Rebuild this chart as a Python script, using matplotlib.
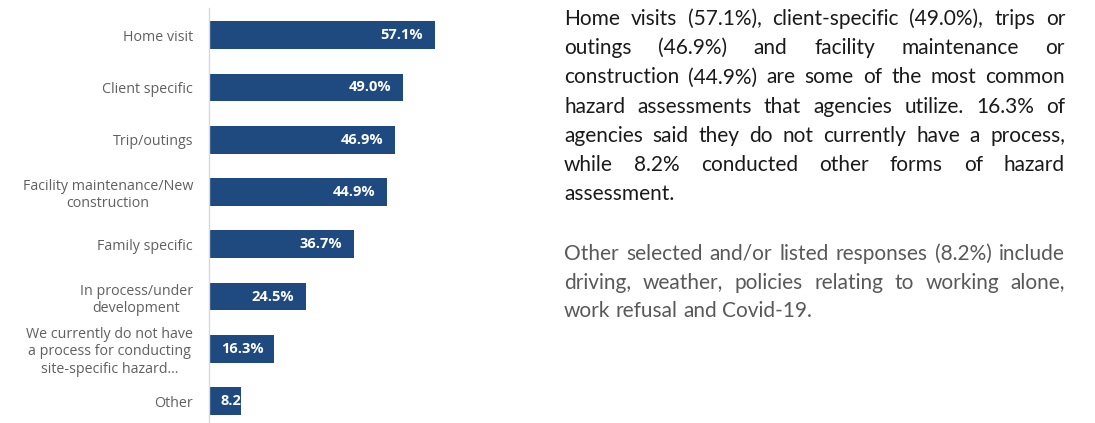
import matplotlib.pyplot as plt

categories = ["Home visit", "Client specific", "Trip/outings",
              "Facility maintenance/New\nconstruction", "Family specific",
              "In process/under\ndevelopment",
              "We currently do not have\na process for conducting\nsite-specific hazard...",
              "Other"]
values = [57.1, 49.0, 46.9, 44.9, 36.7, 24.5, 16.3, 8.2]

para1 = [
    "Home visits (57.1%), client-specific (49.0%), trips or",
    "outings (46.9%) and facility maintenance or",
    "construction (44.9%) are some of the most common",
    "hazard assessments that agencies utilize. 16.3% of",
    "agencies said they do not currently have a process,",
    "while 8.2% conducted other forms of hazard",
    "assessment.",
]
para2 = [
    "Other selected and/or listed responses (8.2%) include",
    "driving, weather, policies relating to working alone,",
    "work refusal and Covid-19.",
]

W, H = 1095, 423
fig = plt.figure(figsize=(W / 100, H / 100), dpi=100)
ax = fig.add_axes([209 / W, 0, 317 / W, 1 - 8 / H])

bar_color = "#1f4a7f"
pos = range(len(values))
ax.barh(pos, values, height=0.53, color=bar_color)
ax.set_ylim(7.42, -0.52)
ax.set_xlim(0, 80)
ax.set_yticks(list(pos))
ax.set_yticklabels(categories, fontsize=10.3, color="#606060",
                   family="Open Sans", linespacing=1.2)
for t in ax.get_yticklabels():
    t.set_multialignment("center")
ax.tick_params(axis="y", length=0, pad=11.5)
ax.set_xticks([])
for s in ["top", "right", "bottom"]:
    ax.spines[s].set_visible(False)
ax.spines["left"].set_color("#d9d9d9")
ax.spines["left"].set_linewidth(1)

for i, v in enumerate(values):
    if v < 20:
        ax.text(3, i, f"{v:.1f}%", ha="left", va="center", color="white",
                fontsize=10.5, fontweight="bold", family="Open Sans")
    else:
        ax.text(v - 3, i, f"{v:.1f}%", ha="right", va="center", color="white",
                fontsize=10.5, fontweight="bold", family="Open Sans")

# justified paragraphs on the right
renderer = fig.canvas.get_renderer()
left, right = 564, 1065
fs = 15


def draw_line(line, base, color, justify):
    words = line.split(" ")
    texts = [fig.text(0, 1 - base / H, w, fontsize=fs, family="Lato",
                      color=color, va="baseline", ha="left") for w in words]
    widths = [t.get_window_extent(renderer).width for t in texts]
    if justify and len(words) > 1:
        gap = (right - left - sum(widths)) / (len(words) - 1)
    else:
        sp = fig.text(0, 0, "a b", fontsize=fs, family="Lato")
        ab = sp.get_window_extent(renderer).width
        sp.set_text("ab")
        gap = ab - sp.get_window_extent(renderer).width
        sp.remove()
    x = left
    for t, w in zip(texts, widths):
        t.set_x(x / W)
        x += w + gap


for k, line in enumerate(para1):
    draw_line(line, 25 + 29.2 * k, "#1a1a1a", k < len(para1) - 1)
for k, line in enumerate(para2):
    draw_line(line, 260 + 28.5 * k, "#595959", k < len(para2) - 1)

fig.savefig("out.png", dpi=100)
